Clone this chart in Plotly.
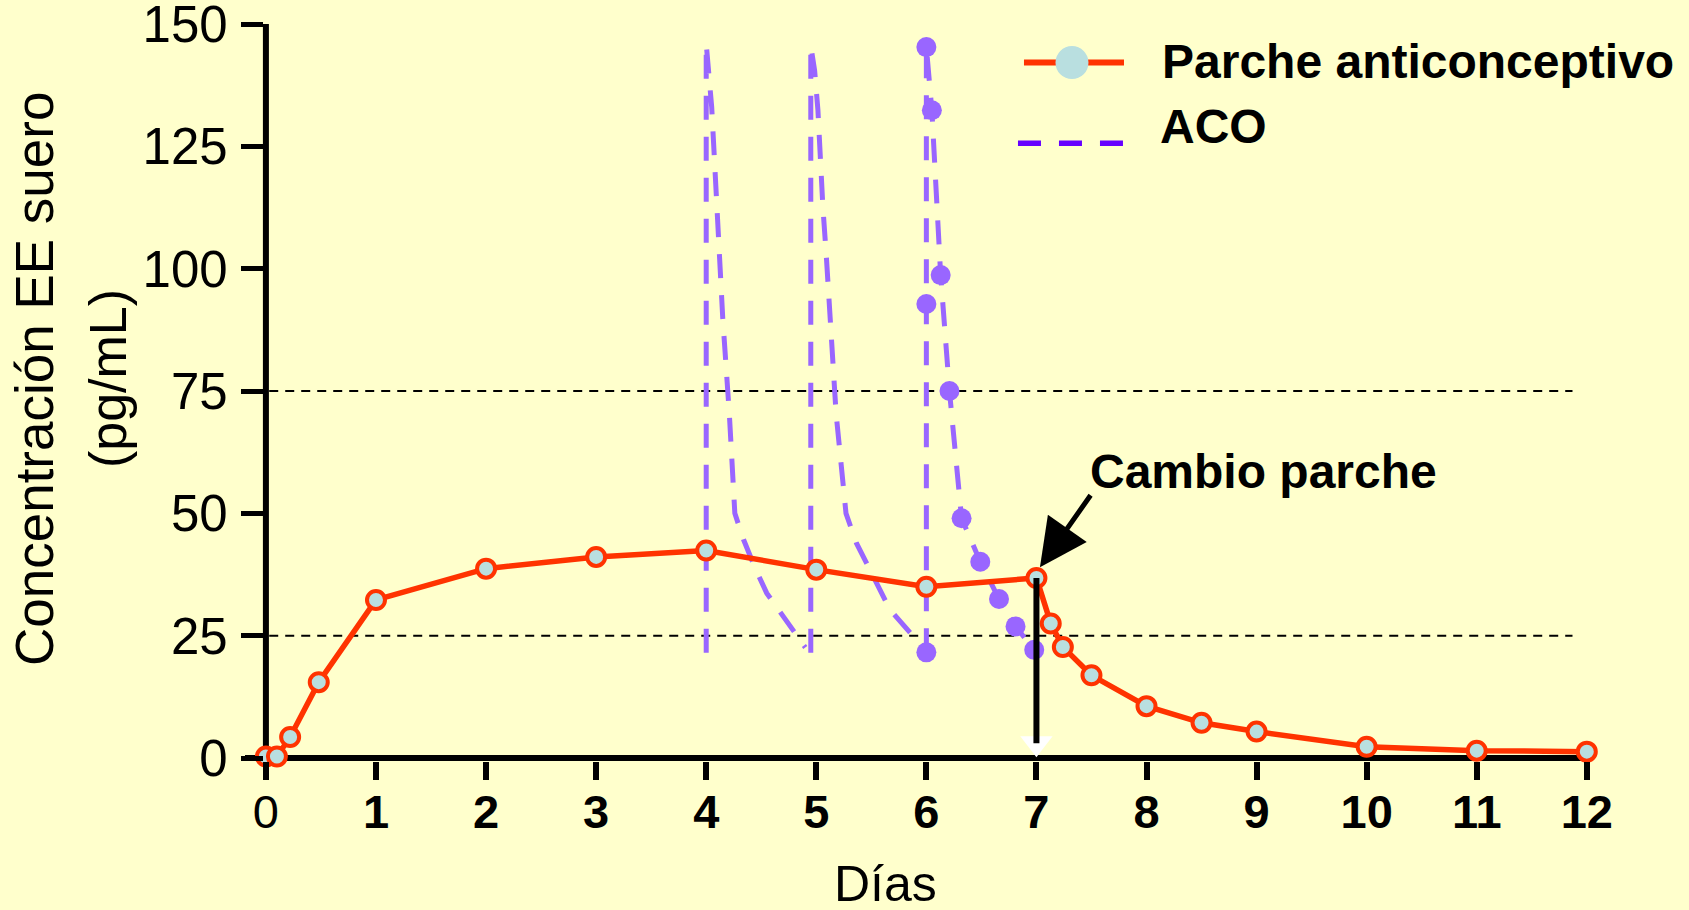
import plotly.graph_objects as go

# ---------------- data ----------------
dias_parche = [0, 0.1, 0.22, 0.48, 1, 2, 3, 4, 5, 6, 7, 7.13, 7.24, 7.5, 8, 8.5, 9, 10, 11, 12]
ee_parche = [0.3, 0.3, 4.3, 15.5, 32.3, 38.7, 41.1, 42.4, 38.5, 35.0, 36.8, 27.5, 22.7, 16.9, 10.6, 7.2, 5.4, 2.3, 1.5, 1.3]

aco1_dias = [4.0, 4.0, 4.05, 4.1, 4.15, 4.21, 4.26, 4.34, 4.45, 4.55, 4.70, 4.90]
aco1_ee = [21.5, 146, 133, 110, 90, 70.4, 50, 44.6, 38.5, 33.7, 28.9, 22.6]

aco2_dias = [4.95, 4.95, 4.985, 5.015, 5.06, 5.09, 5.18, 5.27, 5.365, 5.455, 5.67, 5.88, 5.97]
aco2_ee = [21.5, 145.6, 140.5, 132.4, 112.6, 103, 70.4, 50, 43.9, 39.8, 30.3, 24.9, 22.2]

aco3_dias = [6.0, 6.0, 6.0, 6.05, 6.13, 6.21, 6.32, 6.49, 6.66, 6.81, 6.98]
aco3_ee = [21.6, 92.8, 145.3, 132.4, 98.7, 75.0, 49.0, 40.1, 32.5, 26.9, 22.1]

niveles_ref = [25, 75]
dia_cambio = 7
ee_cambio = 36.8

x_ticks = list(range(0, 13))
x_ticktext = ["0"] + ["<b>%d</b>" % d for d in range(1, 13)]
y_ticks = [0, 25, 50, 75, 100, 125, 150]

# ---------------- layout helpers ----------------
W, H = 1689, 910
L, R, T, B = 245.2, 100.1, 23.7, 149.3
PW, PH = W - L - R, H - T - B


def px(x):
    return (x - L) / PW


def py(y):
    return (H - B - y) / PH


FONT = "Liberation Sans, Arial, Helvetica, sans-serif"
ACO_COLOR = "#9966FF"
RED = "#FF3300"
FILL = "#B9DFE0"

fig = go.Figure()

aco_line = dict(color=ACO_COLOR, width=5, dash="24px,17px")
fig.add_trace(go.Scatter(x=aco1_dias, y=aco1_ee, mode="lines", line=aco_line,
                         cliponaxis=False, hoverinfo="skip"))
fig.add_trace(go.Scatter(x=aco2_dias, y=aco2_ee, mode="lines", line=aco_line,
                         cliponaxis=False, hoverinfo="skip"))
fig.add_trace(go.Scatter(x=aco3_dias, y=aco3_ee, mode="lines+markers", line=aco_line,
                         marker=dict(size=20, color=ACO_COLOR),
                         cliponaxis=False, hoverinfo="skip"))

fig.add_trace(go.Scatter(x=dias_parche, y=ee_parche, mode="lines+markers",
                         line=dict(color=RED, width=5.5),
                         marker=dict(size=18, color=FILL, line=dict(color=RED, width=4)),
                         cliponaxis=False))

# white arrow tip of the patch-change marker line
fig.add_trace(go.Scatter(x=[dia_cambio], y=[3.0], mode="markers",
                         marker=dict(symbol="triangle-down", size=28, color="white"),
                         cliponaxis=False, hoverinfo="skip"))

shapes = []
# reference dashed lines
for lv in niveles_ref:
    shapes.append(dict(type="line", xref="x", yref="y", x0=0.03, x1=11.87, y0=lv, y1=lv,
                       line=dict(color="black", width=2, dash="9px,7px"), layer="below"))
# axis lines
shapes.append(dict(type="line", xref="x", yref="y", x0=-0.19, x1=12.02, y0=0, y1=0,
                   line=dict(color="black", width=6), layer="below"))
shapes.append(dict(type="line", xref="x", yref="y", x0=0, x1=0, y0=0, y1=150,
                   line=dict(color="black", width=6), layer="below"))
# patch change vertical line
shapes.append(dict(type="line", xref="x", yref="y", x0=dia_cambio, x1=dia_cambio,
                   y0=ee_cambio, y1=3.0, line=dict(color="black", width=6), layer="above"))

# custom legend
shapes.append(dict(type="line", xref="paper", yref="paper", x0=px(1024), x1=px(1124),
                   y0=py(62.3), y1=py(62.3), line=dict(color=RED, width=6)))
shapes.append(dict(type="circle", xref="paper", yref="paper",
                   x0=px(1072 - 16.5), x1=px(1072 + 16.5), y0=py(62.3 + 16.5), y1=py(62.3 - 16.5),
                   fillcolor=FILL, line=dict(width=0)))
shapes.append(dict(type="line", xref="paper", yref="paper", x0=px(1018), x1=px(1124),
                   y0=py(143), y1=py(143), line=dict(color="#6600FF", width=5.5, dash="23px,18px")))

annotations = [
    dict(text="<b>Parche anticonceptivo</b>", xref="paper", yref="paper", x=px(1160), y=py(61),
         xanchor="left", yanchor="middle", showarrow=False, font=dict(size=48, color="black", family=FONT)),
    dict(text="<b>ACO</b>", xref="paper", yref="paper", x=px(1158), y=py(126),
         xanchor="left", yanchor="middle", showarrow=False, font=dict(size=48, color="black", family=FONT)),
    dict(text="<b>Cambio parche</b>", xref="paper", yref="paper", x=px(1263), y=py(471),
         xanchor="center", yanchor="middle", showarrow=False, font=dict(size=48, color="black", family=FONT)),
    dict(text="", x=7.032, y=39.0, xref="x", yref="y", ax=51.7, ay=-73.4, axref="pixel", ayref="pixel",
         showarrow=True, arrowhead=2, arrowsize=1.9, arrowwidth=5, arrowcolor="black"),
    dict(text="Concentración EE suero", xref="paper", yref="paper", x=px(35), y=py(378),
         xanchor="center", yanchor="middle", textangle=-90, showarrow=False,
         font=dict(size=53, color="black", family=FONT)),
    dict(text="(pg/mL)", xref="paper", yref="paper", x=px(109), y=py(378),
         xanchor="center", yanchor="middle", textangle=-90, showarrow=False,
         font=dict(size=52, color="black", family=FONT)),
    dict(text="Días", xref="paper", yref="paper", x=px(885.5), y=py(884),
         xanchor="center", yanchor="middle", showarrow=False,
         font=dict(size=50, color="black", family=FONT)),
]

fig.update_layout(
    width=W, height=H,
    margin=dict(l=L, r=R, t=T, b=B, pad=0, autoexpand=False),
    paper_bgcolor="#FFFFCC", plot_bgcolor="#FFFFCC",
    showlegend=False,
    shapes=shapes, annotations=annotations,
    xaxis=dict(range=[-0.19, 12.02], domain=[0, 1], showgrid=False, zeroline=False, showline=False,
               automargin=False,
               ticks="outside", ticklen=18, tickwidth=6, tickcolor="black",
               tickvals=x_ticks, ticktext=x_ticktext,
               tickfont=dict(size=47, color="black", family=FONT), ticklabelstandoff=-8),
    yaxis=dict(range=[-0.613, 150.02], anchor="free", position=(263.1 - L) / PW,
               showgrid=False, zeroline=False, showline=False, automargin=False,
               ticks="outside", ticklen=22, tickwidth=5, tickcolor="black",
               tickvals=y_ticks, tickfont=dict(size=51, color="black", family=FONT),
               ticklabelstandoff=3, ticklabeloverflow="allow"),
)

fig.write_html("out.html", config={"displayModeBar": False},
               post_script="document.body.style.margin='0';document.body.style.padding='0';")
